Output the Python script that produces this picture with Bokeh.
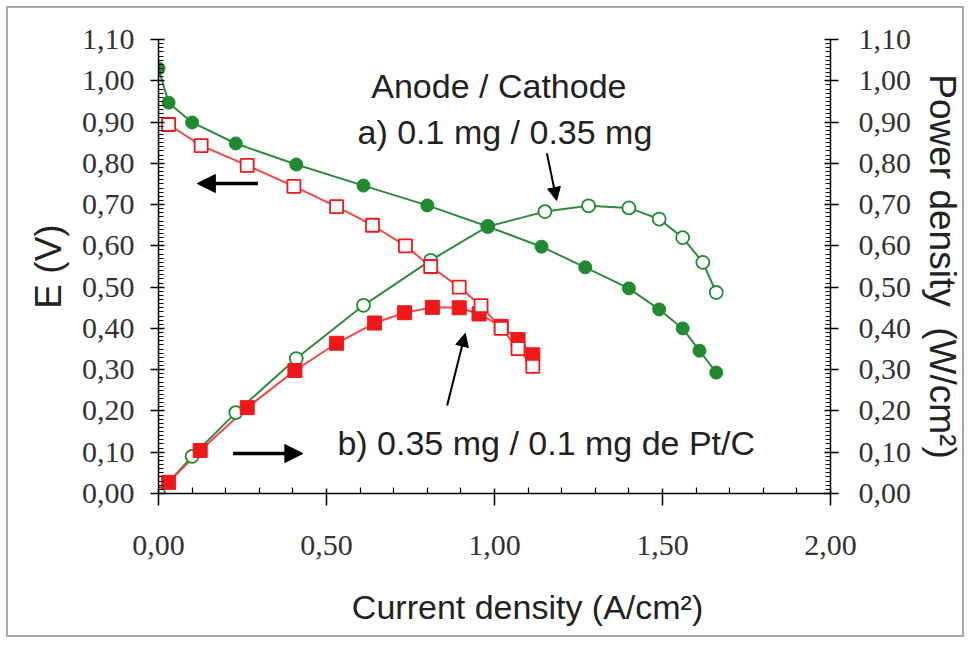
import math
from bokeh.plotting import figure
from bokeh.models import (Range1d, LinearAxis, FixedTicker, CustomJSTickFormatter,
                          Label, Arrow, NormalHead)
from bokeh.embed import file_html
from bokeh.resources import INLINE

# ---- data ----
# a) Anode 0.1 mg / Cathode 0.35 mg  (green)
green_E_i = [0.00, 0.03, 0.10, 0.23, 0.41, 0.61, 0.80, 0.98, 1.14, 1.27, 1.40, 1.49, 1.56, 1.61, 1.66]
green_E = [1.03, 0.947, 0.899, 0.848, 0.797, 0.746, 0.698, 0.647, 0.598, 0.548, 0.497, 0.446, 0.400, 0.346, 0.293]
green_P_i = [0.00, 0.10, 0.23, 0.41, 0.61, 0.81, 0.98, 1.15, 1.28, 1.40, 1.49, 1.56, 1.62, 1.66]
green_P = [0.000, 0.090, 0.196, 0.327, 0.456, 0.565, 0.647, 0.683, 0.697, 0.692, 0.665, 0.620, 0.560, 0.487]

# b) Anode 0.35 mg / Cathode 0.1 mg de Pt/C  (red)
red_E_i = [0.03, 0.127, 0.264, 0.403, 0.53, 0.637, 0.735, 0.81, 0.895, 0.96, 1.02, 1.07, 1.114]
red_E = [0.894, 0.843, 0.795, 0.744, 0.695, 0.650, 0.600, 0.550, 0.500, 0.455, 0.400, 0.351, 0.308]
red_P_i = [0.03, 0.124, 0.264, 0.406, 0.53, 0.643, 0.732, 0.815, 0.895, 0.954, 1.02, 1.07, 1.114]
red_P = [0.027, 0.104, 0.208, 0.298, 0.364, 0.413, 0.438, 0.451, 0.450, 0.435, 0.405, 0.373, 0.336]

y_major = [0.0, 0.1, 0.2, 0.3, 0.4, 0.5, 0.6, 0.7, 0.8, 0.9, 1.0, 1.1]
y_minor = [i / 100 for i in range(0, 111) if i % 10]
x_major = [0.0, 0.5, 1.0, 1.5, 2.0]
x_minor = [i / 10 for i in range(0, 21) if i % 5]

GREEN = "#1f8a30"
GREEN_LINE = "#2f8a40"
RED = "#f01818"
RED_LINE = "#f04848"
TXT = "#222222"

W, H = 958, 631
p = figure(width=W, height=H, output_backend="svg", toolbar_location=None,
           x_range=Range1d(0, 2.0), y_range=Range1d(0, 1.1),
           min_border_left=150, min_border_right=133, min_border_top=31,
           min_border_bottom=146)
p.styles = {"border": "2px solid #a8a8a8", "margin": "6px 0 0 6px"}
p.outline_line_color = None
p.grid.visible = False
p.background_fill_color = "white"
p.border_fill_color = "white"
p.extra_y_ranges = {"pow": Range1d(0, 1.1)}

fmt = CustomJSTickFormatter(code="return tick.toFixed(2).replace('.', ',');")

def style_axis(ax, tin, tout, minin):
    ax.formatter = fmt
    ax.axis_line_color = "black"
    ax.axis_line_width = 1.5
    ax.major_tick_line_color = "black"
    ax.major_tick_line_width = 1.5
    ax.minor_tick_line_color = "black"
    ax.minor_tick_line_width = 1.2
    ax.major_tick_in = tin
    ax.major_tick_out = tout
    ax.minor_tick_in = minin
    ax.minor_tick_out = 0
    ax.major_label_text_font = "Liberation Serif"
    ax.major_label_text_font_size = "30px"
    ax.major_label_text_color = "#333333"
    ax.axis_label_text_font = "Liberation Sans"
    ax.axis_label_text_font_style = "normal"
    ax.axis_label_text_color = TXT

yl = p.yaxis[0]
yl.ticker = FixedTicker(ticks=y_major, minor_ticks=y_minor)
style_axis(yl, 6, 8, 5)
yl.major_label_standoff = 16
yl.axis_label = "E (V)"
yl.axis_label_text_font_size = "37px"
yl.axis_label_standoff = 10

xb = p.xaxis[0]
xb.ticker = FixedTicker(ticks=x_major, minor_ticks=x_minor)
style_axis(xb, 5, 12, 6)
xb.major_label_standoff = 30
# leading no-break spaces shift the centred label to the right, as in the reference
xb.axis_label = "\u00a0" * 7 + "Current density (A/cm²)"
xb.axis_label_text_font_size = "34px"
xb.axis_label_standoff = 30

# right axis: line, ticks, tick labels and title
yr = LinearAxis(y_range_name="pow", ticker=FixedTicker(ticks=y_major, minor_ticks=y_minor))
style_axis(yr, 6, 8, 5)
yr.major_label_standoff = 20
yr.axis_label = "Power density\u00a0 (W/cm²)"
yr.axis_label_text_font_size = "37px"
yr.axis_label_standoff = 8
p.add_layout(yr, "right")

# ---- series ----
p.line(green_P_i, green_P, y_range_name="pow", line_color=GREEN_LINE, line_width=2)
p.line(green_E_i, green_E, line_color=GREEN_LINE, line_width=2)
p.line(red_P_i, red_P, y_range_name="pow", line_color=RED_LINE, line_width=2)
p.line(red_E_i, red_E, line_color=RED_LINE, line_width=2)

p.scatter(green_P_i, green_P, y_range_name="pow", marker="circle", size=13,
          fill_color="white", line_color=GREEN, line_width=1.8)
p.scatter(green_E_i, green_E, marker="circle", size=13,
          fill_color=GREEN, line_color=GREEN)
p.scatter(red_P_i, red_P, y_range_name="pow", marker="square", size=14,
          fill_color=RED, line_color=RED)
p.scatter(red_E_i, red_E, marker="square", size=13,
          fill_color="white", line_color=RED, line_width=1.8)

# ---- annotations ----
def txt(x, y, s, size, **kw):
    p.add_layout(Label(x=x, y=y, text=s, text_font="Liberation Sans",
                       text_font_size=size, text_color=TXT, **kw))

txt(1.013, 0.987, "Anode / Cathode", "34px", text_align="center", text_baseline="alphabetic")
txt(1.031, 0.877, "a) 0.1 mg / 0.35 mg", "34px", text_align="center", text_baseline="alphabetic")
txt(1.154, 0.123, "b) 0.35 mg / 0.1 mg de Pt/C", "34px", text_align="center", text_baseline="alphabetic")

def arrow(x0, y0, x1, y1, lw, hs):
    p.add_layout(Arrow(end=NormalHead(size=hs, fill_color="black", line_color="black"),
                       x_start=x0, y_start=y0, x_end=x1, y_end=y1,
                       line_color="black", line_width=lw))

arrow(0.296, 0.751, 0.1156, 0.751, 3.5, 18)
arrow(0.222, 0.0969, 0.4296, 0.0969, 3.5, 18)
arrow(1.156, 0.824, 1.185, 0.710, 2, 13)
arrow(0.859, 0.213, 0.913, 0.388, 2, 13)

open("out.html", "w").write(file_html(p, INLINE))
